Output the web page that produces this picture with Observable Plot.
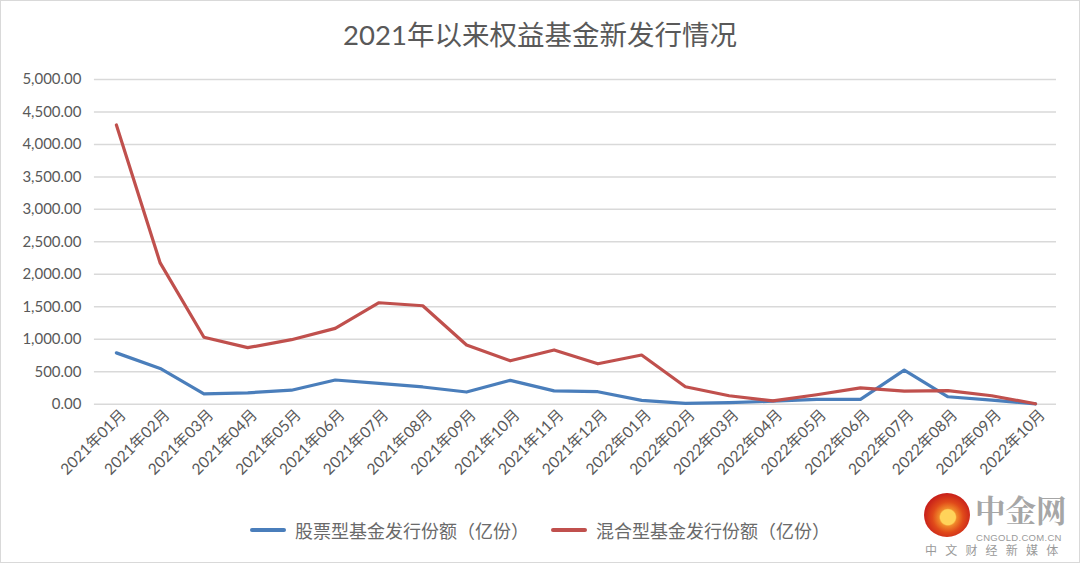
<!DOCTYPE html>
<html>
<head>
<meta charset="utf-8">
<script src="https://cdn.jsdelivr.net/npm/d3@7"></script>
<script src="https://cdn.jsdelivr.net/npm/@observablehq/plot@0.6"></script>
<style>
  html, body { margin: 0; padding: 0; background: #fff; }
  #wrap {
    position: relative; width: 1078px; height: 561px; border: 1px solid #d9d9d9;
    font-family: Lato, "Noto Sans CJK SC", sans-serif; color: #595959; overflow: hidden;
  }
  #title { position: absolute; left: 0; top: 0; width: 100%; height: 60px; line-height: 68px;
    text-align: center; font-size: 27.5px; color: #595959; }
  #chart { position: absolute; left: -1px; top: 59px; }
  #legend { position: absolute; left: 0; top: 516px; width: 100%; display: flex; justify-content: center;
    align-items: center; font-size: 18px; color: #6a6a6a; }
  .item { display: flex; align-items: center; margin: 0 11px; }
  .swatch { width: 36px; height: 4px; border-radius: 2px; margin-right: 9px; }
  #logo { position: absolute; left: 900px; top: 480px; width: 180px; height: 83px; }
  #logo .circle { position: absolute; left: 23px; top: 12px; width: 46px; height: 44px; border-radius: 50%;
    background: radial-gradient(circle at 52% 55%, #ffd35a 0 22%, #f08a2a 26%, #e04a1a 45%, #c8201a 70%); }
  #logo .big { position: absolute; left: 74px; top: 12px; height: 32px; font-size: 30.5px; line-height: 32px; font-weight: bold; color: #a6a6a6;
    font-family: "Noto Serif CJK SC", "Noto Sans CJK SC", sans-serif; letter-spacing: 0px; }
  #logo .url { position: absolute; left: 75px; top: 52px; font-size: 9.5px; line-height: 10px; color: #9a9a9a; letter-spacing: 0.3px;
    font-family: "Liberation Sans", sans-serif; }
  #logo .sub { position: absolute; left: 24px; top: 62px; font-size: 12px; line-height: 14px; color: #9a9a9a; letter-spacing: 8.2px;
    font-family: "Noto Sans CJK SC", sans-serif; }
</style>
</head>
<body>
<div id="wrap">
  <div id="title">2021年以来权益基金新发行情况</div>
  <div id="chart"></div>
  <div id="legend"></div>
  <div id="logo"><div class="circle"></div><div class="big">中金网</div><div class="url">CNGOLD.COM.CN</div><div class="sub">中文财经新媒体</div></div>
</div>
<script>
const months = ["2021年01月","2021年02月","2021年03月","2021年04月","2021年05月","2021年06月",
  "2021年07月","2021年08月","2021年09月","2021年10月","2021年11月","2021年12月",
  "2022年01月","2022年02月","2022年03月","2022年04月","2022年05月","2022年06月",
  "2022年07月","2022年08月","2022年09月","2022年10月"];
const stockName = "股票型基金发行份额（亿份）";
const hybridName = "混合型基金发行份额（亿份）";
const stock = [790, 550, 160, 175, 215, 372, 320, 265, 187, 367, 205, 192, 58, 12, 24, 46, 74, 74, 525, 114, 62, 4];
const hybrid = [4300, 2175, 1030, 870, 993, 1168, 1562, 1516, 912, 668, 835, 622, 757, 268, 130, 52, 145, 252, 200, 210, 130, 6];
const yTicks = [0, 500, 1000, 1500, 2000, 2500, 3000, 3500, 4000, 4500, 5000];
const colors = { [stockName]: "#4a7ebb", [hybridName]: "#c0504d" };

const data = [
  ...months.map((m, i) => ({ month: m, value: stock[i], series: stockName })),
  ...months.map((m, i) => ({ month: m, value: hybrid[i], series: hybridName }))
];

const chart = Plot.plot({
  width: 1080, height: 450,
  marginTop: 19, marginBottom: 106, marginLeft: 94, marginRight: 23,
  style: { fontFamily: 'Lato, "Noto Sans CJK SC", sans-serif', fontSize: "15px", color: "#595959", background: "transparent", overflow: "visible" },
  x: { type: "point", domain: months, range: [116, 1036], padding: 0, round: false },
  y: { domain: [0, 5000] },
  marks: [
    Plot.gridY(yTicks, { stroke: "#d9d9d9", strokeOpacity: 1, strokeWidth: 1.5 }),
    Plot.axisY(yTicks, { tickFormat: d3.format(",.2f"), tickSize: 0, tickPadding: 13, label: null, fontSize: 15, fill: "#595959" }),
    Plot.axisX({ tickRotate: -45, tickSize: 0, tickPadding: 8, dx: 7, label: null, fontSize: 15.5, fill: "#595959" }),
    Plot.line(data, { x: "month", y: "value", z: "series", stroke: d => colors[d.series], strokeWidth: 3.2, strokeLinejoin: "round", strokeLinecap: "round" })
  ]
});
document.getElementById("chart").appendChild(chart);

const legend = document.getElementById("legend");
[stockName, hybridName].forEach(name => {
  const item = document.createElement("div");
  item.className = "item";
  const sw = document.createElement("div");
  sw.className = "swatch";
  sw.style.background = colors[name];
  const label = document.createElement("span");
  label.textContent = name;
  item.appendChild(sw);
  item.appendChild(label);
  legend.appendChild(item);
});
</script>
</body>
</html>
